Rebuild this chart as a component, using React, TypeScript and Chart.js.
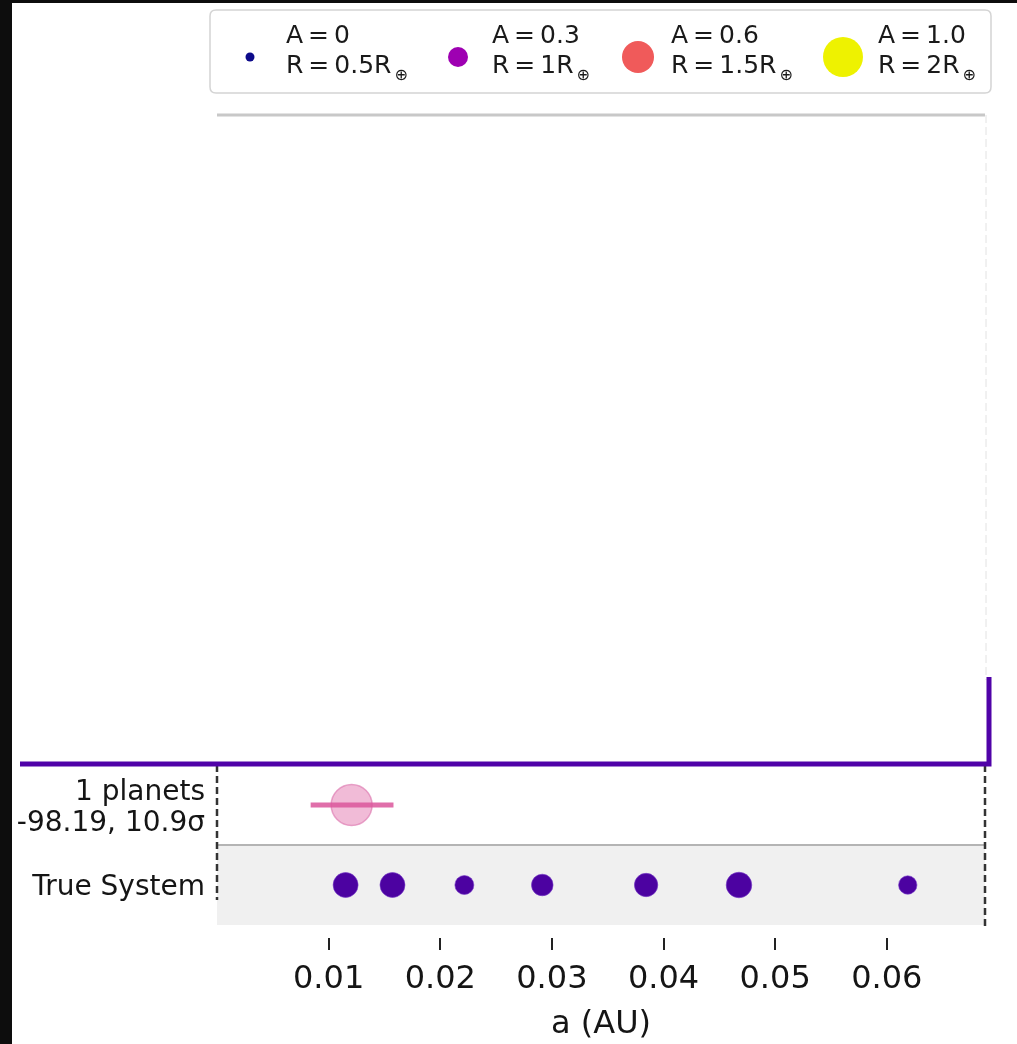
import React, { useEffect, useRef } from "react";
import { Chart, registerables } from "chart.js";

Chart.register(...registerables);

// ---- data ----
const trueSystemA = [0.01152, 0.01572, 0.02216, 0.02914, 0.03844, 0.04676, 0.06188]; // AU
const trueSystemR = [1.25, 1.25, 0.95, 1.08, 1.17, 1.28, 0.92]; // Earth radii
const predictedA = [0.01206];
const predictedLo = [0.00839];
const predictedHi = [0.01581];
const predictedR = [2.05];
const rowLabels: string[][] = [["True System"], ["1 planets", "-98.19, 10.9σ"]];
const xTickValues = [0.01, 0.02, 0.03, 0.04, 0.05, 0.06];
const legendALabels = ["A=0", "A=0.3", "A=0.6", "A=1.0"];
const legendRLabels = ["R=0.5R", "R=1R", "R=1.5R", "R=2R"];
const legendRValues = [0.45, 1.0, 1.6, 2.0];

// ---- styles ----
const FONT = "DejaVu Sans";
const TRUE_COLOR = "#4c02a1";
const LINE_PURPLE = "#5002a8";
const legendColors = ["#0d0a8a", "#9e00b2", "#f05a5a", "#eef200"];
const PX_PER_R = 10;

function spaced(s: string) {
  return s.replace("=", "\u2009=\u2009");
}

const decorPlugin = {
  id: "decor",
  beforeDraw(chart: any) {
    const ctx = chart.ctx;
    ctx.save();
    ctx.fillStyle = "#ffffff";
    ctx.fillRect(0, 0, chart.width, chart.height);
    ctx.fillStyle = "#0d0d0d";
    ctx.fillRect(0, 0, 12, chart.height);
    ctx.fillRect(0, 0, chart.width, 3);
    ctx.restore();
  },
  beforeDatasetsDraw(chart: any) {
    const { ctx, chartArea } = chart;
    const y = chart.scales.y;
    const L = chartArea.left;
    const R = chartArea.right;
    const yBot = y.getPixelForValue(-0.5);
    const ySep = y.getPixelForValue(0.5);
    const yTop2 = y.getPixelForValue(1.5);
    ctx.save();
    // grey row
    ctx.fillStyle = "#f0f0f0";
    ctx.fillRect(L, ySep, R - L, yBot - ySep);
    // separator
    ctx.strokeStyle = "#b4b4b4";
    ctx.lineWidth = 2;
    ctx.beginPath();
    ctx.moveTo(L, ySep);
    ctx.lineTo(R, ySep);
    ctx.stroke();
    // top line
    ctx.strokeStyle = "#c8c8c8";
    ctx.lineWidth = 3;
    ctx.beginPath();
    ctx.moveTo(L, chartArea.top);
    ctx.lineTo(R, chartArea.top);
    ctx.stroke();
    // faint right dashed
    ctx.strokeStyle = "#e2e2e2";
    ctx.lineWidth = 1;
    ctx.setLineDash([8, 4]);
    ctx.beginPath();
    ctx.moveTo(R + 1, chartArea.top);
    ctx.lineTo(R + 1, yTop2 - 85);
    ctx.stroke();
    // black dashed lines
    ctx.strokeStyle = "#333333";
    ctx.lineWidth = 2.5;
    ctx.setLineDash([7, 4]);
    ctx.beginPath();
    ctx.moveTo(L, yTop2);
    ctx.lineTo(L, yBot - 25);
    ctx.moveTo(R, yTop2);
    ctx.lineTo(R, yBot + 5);
    ctx.stroke();
    ctx.setLineDash([]);
    ctx.restore();
  },
  afterDatasetsDraw(chart: any) {
    const { ctx, chartArea } = chart;
    const y = chart.scales.y;
    const yTop2 = y.getPixelForValue(1.5);
    const R = chartArea.right;
    ctx.save();
    ctx.strokeStyle = LINE_PURPLE;
    ctx.lineWidth = 5;
    ctx.lineCap = "butt";
    ctx.beginPath();
    ctx.moveTo(20, yTop2 - 1);
    ctx.lineTo(R + 4, yTop2 - 1);
    ctx.lineTo(R + 4, yTop2 - 88);
    ctx.stroke();
    ctx.restore();
  },
  afterDraw(chart: any) {
    const { ctx } = chart;
    const xs = chart.scales.x;
    ctx.save();
    // tick marks
    ctx.strokeStyle = "#222222";
    ctx.lineWidth = 2;
    xTickValues.forEach((v) => {
      const px = Math.round(xs.getPixelForValue(v));
      ctx.beginPath();
      ctx.moveTo(px, 938);
      ctx.lineTo(px, 950);
      ctx.stroke();
    });
    // legend box
    const bx = 210, by = 10, bw = 781, bh = 83, rr = 6;
    ctx.beginPath();
    ctx.moveTo(bx + rr, by);
    ctx.lineTo(bx + bw - rr, by);
    ctx.quadraticCurveTo(bx + bw, by, bx + bw, by + rr);
    ctx.lineTo(bx + bw, by + bh - rr);
    ctx.quadraticCurveTo(bx + bw, by + bh, bx + bw - rr, by + bh);
    ctx.lineTo(bx + rr, by + bh);
    ctx.quadraticCurveTo(bx, by + bh, bx, by + bh - rr);
    ctx.lineTo(bx, by + rr);
    ctx.quadraticCurveTo(bx, by, bx + rr, by);
    ctx.closePath();
    ctx.fillStyle = "#ffffff";
    ctx.fill();
    ctx.strokeStyle = "#d4d4d4";
    ctx.lineWidth = 1.5;
    ctx.stroke();
    const markerX = [250, 458, 638, 843];
    const textX = [286, 492, 671, 878];
    legendALabels.forEach((lab, i) => {
      ctx.beginPath();
      ctx.arc(markerX[i], 57, legendRValues[i] * PX_PER_R, 0, Math.PI * 2);
      ctx.fillStyle = legendColors[i];
      ctx.fill();
      ctx.fillStyle = "#1a1a1a";
      ctx.textAlign = "left";
      ctx.textBaseline = "middle";
      ctx.font = `25px "${FONT}"`;
      ctx.fillText(spaced(lab), textX[i], 36);
      const rText = spaced(legendRLabels[i]);
      ctx.fillText(rText, textX[i], 66);
      const w = ctx.measureText(rText).width;
      ctx.font = `16px "${FONT}"`;
      ctx.fillText("⊕", textX[i] + w + 3, 76);
    });
    ctx.restore();
  },
};

export default function App() {
  const ref = useRef<HTMLCanvasElement | null>(null);
  useEffect(() => {
    if (!ref.current) return;
    const chart = new Chart(ref.current, {
      type: "scatter",
      data: {
        datasets: [
          {
            type: "line",
            label: "error",
            data: [
              { x: predictedLo[0], y: 1 },
              { x: predictedHi[0], y: 1 },
            ],
            borderColor: "rgba(218,86,155,0.85)",
            borderWidth: 5,
            pointRadius: 0,
            fill: false,
          } as any,
          {
            label: "prediction",
            data: predictedA.map((a) => ({ x: a, y: 1 })),
            pointRadius: predictedR.map((r) => r * PX_PER_R),
            backgroundColor: "rgba(228,120,175,0.5)",
            borderColor: "rgba(218,110,170,0.6)",
            borderWidth: 1.5,
          },
          {
            label: "True System",
            data: trueSystemA.map((a) => ({ x: a, y: 0 })),
            pointRadius: trueSystemR.map((r) => r * PX_PER_R),
            backgroundColor: TRUE_COLOR,
            borderColor: "rgba(120,60,200,0.6)",
            borderWidth: 1,
          },
        ],
      },
      options: {
        responsive: false,
        animation: false,
        devicePixelRatio: 1,
        layout: { padding: { top: 115, right: 32, left: 0, bottom: 0 } },
        plugins: { legend: { display: false }, tooltip: { enabled: false } },
        scales: {
          x: {
            type: "linear",
            min: 0,
            max: 0.0688,
            afterBuildTicks: (s: any) => {
              s.ticks = xTickValues.map((v) => ({ value: v }));
            },
            afterFit: (s: any) => {
              s.height = 119;
            },
            grid: { display: false },
            border: { display: false },
            ticks: {
              autoSkip: false,
              maxRotation: 0,
              padding: 27,
              color: "#151515",
              font: { family: FONT, size: 32 },
              callback: (v: any) => Number(v).toFixed(2),
            },
            title: {
              display: true,
              text: "a (AU)",
              color: "#151515",
              font: { family: FONT, size: 32 },
              padding: { top: 0, bottom: 0 },
            },
          },
          y: {
            type: "linear",
            min: -0.5,
            max: 9.625,
            afterBuildTicks: (s: any) => {
              s.ticks = [{ value: 0 }, { value: 1 }];
            },
            afterFit: (s: any) => {
              s.width = 217;
            },
            grid: { display: false },
            border: { display: false },
            ticks: {
              padding: 4,
              labelOffset: 3,
              color: "#151515",
              font: { family: FONT, size: 28, lineHeight: 1.1 },
              callback: (_v: any, i: number) => rowLabels[i],
            },
          },
        },
      } as any,
      plugins: [decorPlugin],
    });
    return () => chart.destroy();
  }, []);
  return (
    <div style={{ position: "fixed", left: 0, top: 0, width: 1017, height: 1044, background: "#fff" }}>
      <canvas ref={ref} width={1017} height={1044} style={{ display: "block" }} />
    </div>
  );
}
